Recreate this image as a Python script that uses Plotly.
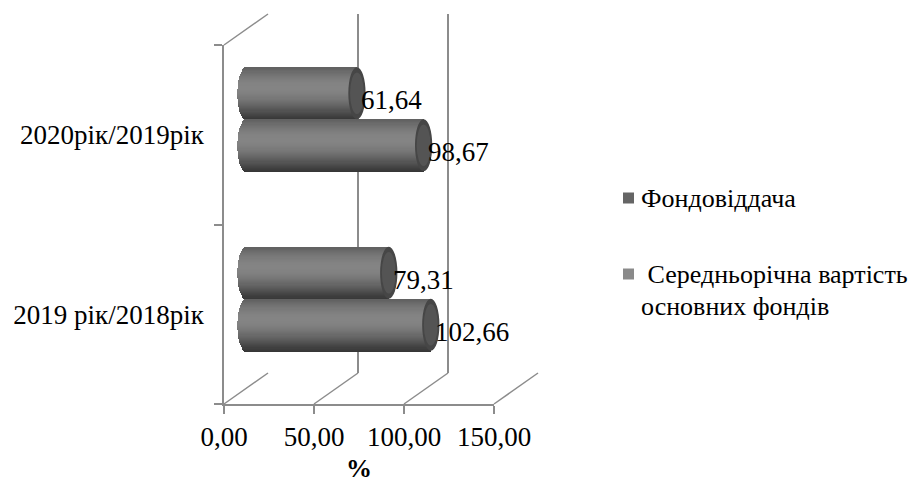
import numpy as np
import plotly.graph_objects as go

# ---- data -------------------------------------------------------------
categories = ["2019 рік/2018рік", "2020рік/2019рік"]
series_names = ["Фондовіддача", "Середньорічна вартість основних фондів"]
fondovidd = [79.31, 61.64]
serednorichna = [102.66, 98.67]
x_ticks = [0, 50, 100, 150]

# ---- geometry / style -------------------------------------------------
W, H = 918, 483
FONT = "Liberation Serif"
FS = 27
LEG_FS = 26
GRID = "#8c8c8c"

X_MAX = 150
FRONT_L, FRONT_R = 224, 494      # pixel columns of 0 and 150 on the front axis
FRONT_T, FRONT_B = 45, 404       # pixel rows of the front plot box
DX, DY = 44, 31                  # depth offset of the back wall
PXU = (FRONT_R - FRONT_L) / X_MAX
CAP = 4.8                        # cylinder end-cap half width (data units)
BAR_W = 0.29                     # bar thickness (category units)
N_STRIPS = 48                    # horizontal bands used to shade each cylinder


def fx(p):
    return p / W


def fy(p):
    return 1 - p / H


def shade(u, base_light):
    """Brightness across the cylinder, u = 0 bottom .. 1 top."""
    c = max(0.0, np.cos((u - 0.63) * np.pi / 1.35))
    v = int(round(48 + base_light * c ** 1.3))
    return f"rgb({v},{v},{v})"


fig = go.Figure()

# front axes need a trace so the categories register
fig.add_trace(go.Scatter(x=[None, None], y=categories, xaxis="x", yaxis="y",
                         mode="markers", showlegend=False, hoverinfo="skip"))
# back wall subplot
fig.add_trace(go.Scatter(x=[None], y=[None], xaxis="x2", yaxis="y2",
                         mode="markers", showlegend=False, hoverinfo="skip"))

shapes = []
annotations = []

series = [
    (series_names[0], fondovidd, 0.0, 84),
    (series_names[1], serednorichna, -BAR_W, 84),
]

slot = BAR_W / N_STRIPS
for name, vals, off, light in series:
    vals = np.asarray(vals, dtype=float)
    for k in range(N_STRIPS):
        u = (k + 0.5) / N_STRIPS
        t = 2 * u - 1
        base = -CAP * np.sqrt(max(0.0, 1 - t * t))
        bases = [base] * len(vals)
        lengths = list(vals - base)
        fig.add_trace(go.Bar(
            orientation="h", y=categories, x=lengths, base=bases,
            offset=off + slot * k, width=slot,
            marker=dict(color=shade(u, light), line=dict(width=0)),
            xaxis="x3", yaxis="y3", showlegend=False, hoverinfo="skip",
        ))
    for i, v in enumerate(vals):
        y0, y1 = i + off, i + off + BAR_W
        # end cap of the cylinder
        shapes.append(dict(type="circle", xref="x3", yref="y3",
                           x0=v - CAP, x1=v + CAP, y0=y0, y1=y1,
                           fillcolor="#464646", line=dict(width=0), layer="above"))
        shapes.append(dict(type="circle", xref="x3", yref="y3",
                           x0=v - CAP * 0.8, x1=v + CAP * 0.8,
                           y0=y0 + BAR_W * 0.1, y1=y1 - BAR_W * 0.1,
                           fillcolor="#545454", line=dict(width=0), layer="above"))
        annotations.append(dict(
            x=v, y=(y0 + y1) / 2, xref="x3", yref="y3",
            text=f"{v:.2f}".replace(".", ","), showarrow=False,
            xanchor="left", yanchor="middle", xshift=2, yshift=-7,
            font=dict(family=FONT, size=FS, color="black"),
        ))

# depth edges of the floor and the top-left corner
for v in x_ticks:
    xp = FRONT_L + v * PXU
    shapes.append(dict(type="line", xref="paper", yref="paper",
                       x0=fx(xp), y0=fy(FRONT_B), x1=fx(xp + DX), y1=fy(FRONT_B - DY),
                       line=dict(color=GRID, width=1.5), layer="below"))
shapes.append(dict(type="line", xref="paper", yref="paper",
                   x0=fx(FRONT_L), y0=fy(FRONT_T), x1=fx(FRONT_L + DX), y1=fy(FRONT_T - DY),
                   line=dict(color=GRID, width=1.5), layer="below"))

# legend
legend_rows = [
    (series_names[0], "#656565", 198, ["Фондовіддача"], [0]),
    (series_names[1], "#8a8a8a", 274, ["\u00a0Середньорічна вартість", "основних фондів"], [0, 32]),
]
for name, col, yc, lines, dys in legend_rows:
    shapes.append(dict(type="rect", xref="paper", yref="paper",
                       x0=fx(623), x1=fx(634), y0=fy(yc + 5.5), y1=fy(yc - 5.5),
                       fillcolor=col, line=dict(width=0)))
    for txt, d in zip(lines, dys):
        annotations.append(dict(
            x=fx(639), y=fy(yc + d), xref="paper", yref="paper", text=txt,
            showarrow=False, xanchor="left", yanchor="middle",
            font=dict(family=FONT, size=LEG_FS, color="black"),
        ))

tickfont = dict(family=FONT, size=FS, color="black")
fig.update_layout(
    width=W, height=H, autosize=False,
    margin=dict(l=0, r=0, t=0, b=0),
    paper_bgcolor="white", plot_bgcolor="rgba(0,0,0,0)",
    font=dict(family=FONT, size=FS, color="black"),
    separators=", ",
    barmode="overlay", bargap=0,
    showlegend=False,
    xaxis=dict(
        domain=[fx(FRONT_L), fx(FRONT_R)], range=[0, X_MAX], anchor="y",
        tickvals=x_ticks, tickformat=".2f", ticks="outside", ticklen=8,
        tickwidth=1.5, tickcolor=GRID, showline=True, linecolor=GRID, linewidth=1.5,
        showgrid=False, zeroline=False, tickfont=tickfont, automargin=False,
        title=dict(text="<b>%</b>", font=dict(family=FONT, size=26, color="black"),
                   standoff=9),
    ),
    yaxis=dict(
        domain=[fy(FRONT_B), fy(FRONT_T)], anchor="x", type="category",
        categoryorder="array", categoryarray=categories, range=[-0.5, 1.5],
        tickson="boundaries", ticks="outside", ticklen=8, tickwidth=1.5,
        tickcolor=GRID, showline=True, linecolor=GRID, linewidth=1.5,
        showgrid=False, zeroline=False, tickfont=tickfont, automargin=False,
        ticklabelstandoff=13,
    ),
    xaxis2=dict(
        domain=[fx(FRONT_L + DX), fx(FRONT_R + DX)], range=[-0.01, X_MAX + 0.01],
        anchor="y2", tickvals=x_ticks, showticklabels=False, ticks="",
        showgrid=True, gridcolor=GRID, gridwidth=1.5, zeroline=False, showline=False,
    ),
    yaxis2=dict(
        domain=[fy(FRONT_B - DY), fy(FRONT_T - DY)], anchor="x2", range=[0, 1],
        showgrid=False, zeroline=False, showticklabels=False, ticks="", showline=False,
    ),
    xaxis3=dict(
        domain=[fx(FRONT_L + DX / 2 - 15 * PXU), fx(FRONT_R + DX / 2)],
        range=[-15, X_MAX], anchor="y3", visible=False,
    ),
    yaxis3=dict(
        domain=[fy(FRONT_B - DY / 2), fy(FRONT_T - DY / 2)], anchor="x3",
        type="category", categoryorder="array", categoryarray=categories,
        range=[-0.5, 1.5], visible=False,
    ),
    shapes=shapes,
    annotations=annotations,
)

fig.write_html("out.html")
